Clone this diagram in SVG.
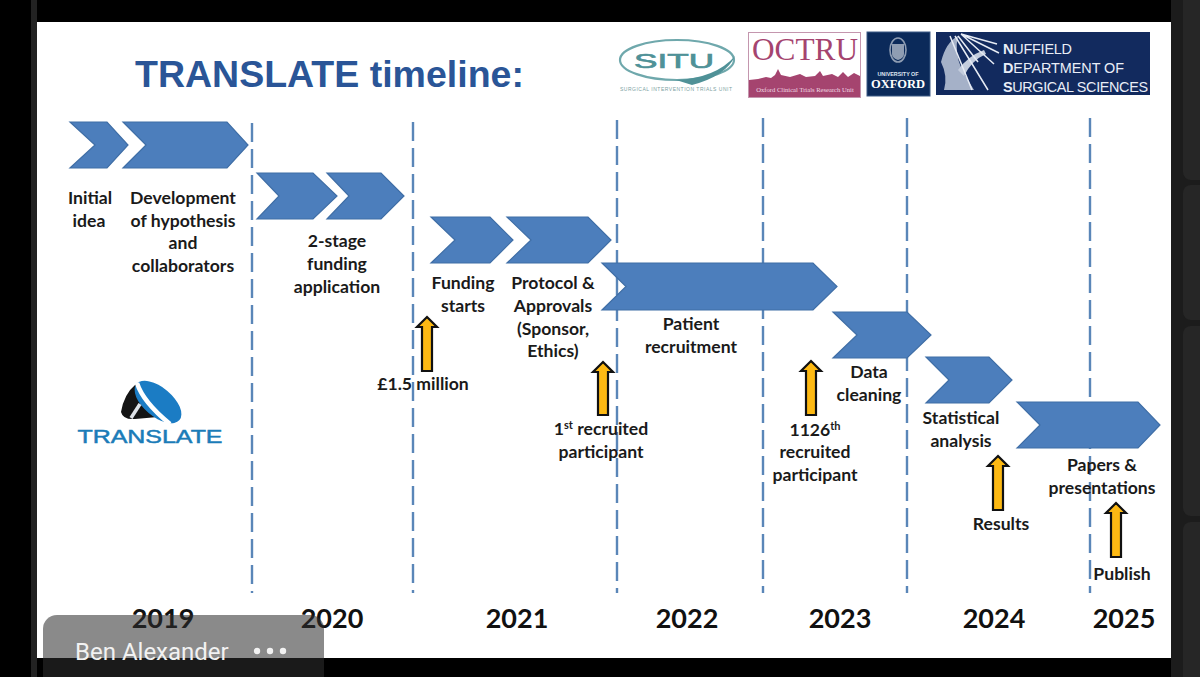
<svg xmlns="http://www.w3.org/2000/svg" width="1200" height="677" viewBox="0 0 1200 677">
<style>
.t{font-family:"Lato","Open Sans",sans-serif;font-weight:700;font-size:17.6px;fill:#1a1a1a;text-anchor:middle}
.y{font-family:"Lato","Open Sans",sans-serif;font-weight:700;font-size:27px;fill:#111;text-anchor:middle}
.c{fill:#4c7ebc;stroke:#3f6ea6;stroke-width:1.2}
.a{fill:#fdb913;stroke:#111;stroke-width:2.2}
.d{stroke:#5a86b8;stroke-width:2.4;stroke-dasharray:19 7;fill:none}
.s{font-size:11px}
</style>
<rect width="1200" height="677" fill="#000"/>
<rect x="31" y="0" width="6" height="677" fill="#222"/>
<rect x="1171" y="0" width="29" height="677" fill="#1c1c1c"/>
<rect x="1183" y="-20" width="30" height="200" rx="8" fill="#262626"/>
<rect x="1183" y="185" width="30" height="135" rx="8" fill="#262626"/>
<rect x="1183" y="326" width="30" height="190" rx="8" fill="#262626"/>
<rect x="1183" y="522" width="30" height="175" rx="8" fill="#262626"/>
<rect x="37" y="22" width="1134" height="636" fill="#fff"/>
<text id="title" x="135" y="87" font-family="'Liberation Sans',Arial,sans-serif" font-weight="700" font-size="37.5" fill="#2a5597">TRANSLATE timeline:</text>
<g id="logo-situ">
<ellipse cx="677" cy="60" rx="57" ry="20" fill="none" stroke="#6fa8ac" stroke-width="2.2"/>
<path d="M676 80Q716 78 735 56Q726 76 692 85Z" fill="#4f9197"/>
<text x="674" y="68" font-family="'Liberation Sans',sans-serif" font-size="21" fill="#4f9197" stroke="#4f9197" stroke-width=".7" text-anchor="middle" textLength="80" lengthAdjust="spacingAndGlyphs">SITU</text>
<text x="676" y="91" font-family="'Liberation Sans',sans-serif" font-size="5" fill="#7d9fa3" text-anchor="middle" textLength="112" lengthAdjust="spacing">SURGICAL INTERVENTION TRIALS UNIT</text>
</g>
<g id="logo-octru">
<rect x="748.500" y="32.500" width="112" height="65" fill="#fff" stroke="#c496ae"/>
<path d="M749 80L758 79L766 77L771 78L775 75L778 69L781 75L790 77L800 74L806 77L815 76L820 71L823 76L832 74L838 77L843 72L848 77L854 73L860 76V97H749Z" fill="#a5446f"/>
<text x="805" y="60" font-family="'Liberation Serif',serif" font-size="31" fill="#a5446f" text-anchor="middle" textLength="106" lengthAdjust="spacingAndGlyphs">OCTRU</text>
<text x="805" y="92" font-family="'Liberation Serif',serif" font-size="6.6" fill="#f0dbe5" text-anchor="middle">Oxford Clinical Trials Research Unit</text>
</g>
<g id="logo-oxford">
<rect x="867" y="32" width="63" height="64" fill="#0b2a5a" stroke="#3c5a85"/>
<ellipse cx="898" cy="50" rx="8" ry="12" fill="none" stroke="#8f9db3" stroke-width="1.6"/>
<path d="M892 44h12v10q0 4-6 6q-6-2-6-6z" fill="#8f9db3"/>
<text x="898" y="76" font-family="'Liberation Sans',sans-serif" font-weight="700" font-size="5.4" fill="#dfe6f0" text-anchor="middle">UNIVERSITY OF</text>
<text x="898" y="88" font-family="'Liberation Serif',serif" font-weight="700" font-size="12.5" fill="#fff" text-anchor="middle">OXFORD</text>
</g>
<g id="logo-nuffield">
<rect x="936" y="32" width="214" height="63" fill="#122a5e"/>
<path d="M941 62Q946 42 958 36Q954 52 962 70L974 90H944Q948 76 941 62Z" fill="#a5b1c8"/>
<path d="M958 70Q968 56 984 50L986 54Q972 60 964 76Z" fill="#c4cddd"/>
<path d="M961 34L997 44M961 34L999 53M961 34L994 64M958 36L978 62M955 36L988 90M950 36L972 90" stroke="#e6ebf4" stroke-width="1.500" fill="none"/>
<g font-family="'Liberation Sans',sans-serif" font-size="14.4" fill="#e9eef7">
<text x="1003" y="54" textLength="69"><tspan font-weight="700">N</tspan>UFFIELD</text>
<text x="1003" y="73" textLength="121"><tspan font-weight="700">D</tspan>EPARTMENT OF</text>
<text x="1003" y="92" textLength="145"><tspan font-weight="700">S</tspan>URGICAL SCIENCES</text>
</g>
</g>
<g id="logo-translate">
<path d="M121 412Q124 394 136 384L150 392L170 420L158 417L135 419Q123 420 121 412Z" fill="#141414"/>
<ellipse cx="158" cy="402" rx="28" ry="14.500" transform="rotate(40 158 402)" fill="#1b7cc4"/>
<path d="M137 383Q143 402 170 424" stroke="#fff" stroke-width="4.500" fill="none"/>
<path d="M140 404L131 418" stroke="#dfe3e8" stroke-width="3.500" fill="none"/>
<text x="150" y="443" font-family="'Liberation Sans',sans-serif" font-size="19" fill="#1b7cb8" text-anchor="middle" textLength="145" lengthAdjust="spacingAndGlyphs" stroke="#1b7cb8" stroke-width=".5">TRANSLATE</text>
</g>
<g id="connectors">
<path class="d" d="M252 123V593M413 122V593M617 120V593M763 118V593M907 118V593M1090 118V593"/>
</g>
<g id="n1"><polygon class="c" points="70,122 107,122 128,145 107,168 70,168 95,145"/><text class="t"><tspan x="90" y="204">Initial</tspan><tspan x="89" y="227">idea</tspan></text></g>
<g id="n2"><polygon class="c" points="123,122 227,122 248,145 227,168 123,168 146,145"/><text class="t"><tspan x="183" y="204">Development</tspan><tspan x="183" y="227">of hypothesis</tspan><tspan x="183" y="249">and</tspan><tspan x="183" y="272">collaborators</tspan></text></g>
<g id="n3"><polygon class="c" points="257,173 313,173 337,196 313,219 257,219 279,196"/></g>
<g id="n4"><polygon class="c" points="327,173 381,173 404,196 381,219 327,219 349,196"/><text class="t"><tspan x="337" y="247">2-stage</tspan><tspan x="337" y="270">funding</tspan><tspan x="337" y="293">application</tspan></text></g>
<g id="n5"><polygon class="c" points="431,217 490,217 513,240 490,263 431,263 455,240"/><text class="t"><tspan x="463" y="289">Funding</tspan><tspan x="463" y="312">starts</tspan></text></g>
<g id="n6"><polygon class="c" points="507,217 588,217 611,240 588,263 507,263 531,240"/><text class="t"><tspan x="553" y="289">Protocol &amp;</tspan><tspan x="553" y="312">Approvals</tspan><tspan x="553" y="335">(Sponsor,</tspan><tspan x="553" y="357">Ethics)</tspan></text></g>
<g id="n7"><polygon class="c" points="602,263 813,263 837,286.500 813,310 602,310 626,286.500"/><text class="t"><tspan x="691" y="330">Patient</tspan><tspan x="691" y="353">recruitment</tspan></text></g>
<g id="n8"><polygon class="c" points="833,312 907,312 931,335 907,358 833,358 857,335"/><text class="t"><tspan x="869" y="378">Data</tspan><tspan x="869" y="401">cleaning</tspan></text></g>
<g id="n9"><polygon class="c" points="926,357 989,357 1012,380 989,403 926,403 949,380"/><text class="t"><tspan x="961" y="424">Statistical</tspan><tspan x="961" y="447">analysis</tspan></text></g>
<g id="n10"><polygon class="c" points="1017,402 1138,402 1160,425 1138,448 1017,448 1040,425"/><text class="t"><tspan x="1102" y="471">Papers &amp;</tspan><tspan x="1102" y="494">presentations</tspan></text></g>
<g id="m1"><polygon class="a" points="427,317 437,327 432,327 432,371 422,371 422,327 417,327"/><text class="t" x="423" y="390">£1.5 million</text></g>
<g id="m2"><polygon class="a" points="603,362 613,372 608,372 608,415 598,415 598,372 593,372"/><text class="t"><tspan x="601" y="435">1<tspan class="s" dy="-6">st</tspan><tspan dy="6"> recruited</tspan></tspan><tspan x="601" y="458">participant</tspan></text></g>
<g id="m3"><polygon class="a" points="811,361 821,371 816,371 816,415 806,415 806,371 801,371"/><text class="t"><tspan x="815" y="436">1126<tspan class="s" dy="-6">th</tspan></tspan><tspan x="815" y="458">recruited</tspan><tspan x="815" y="481">participant</tspan></text></g>
<g id="m4"><polygon class="a" points="998,456 1008,466 1003,466 1003,510 993,510 993,466 988,466"/><text class="t" x="1001" y="530">Results</text></g>
<g id="m5"><polygon class="a" points="1116,503 1126,513 1121,513 1121,557 1111,557 1111,513 1106,513"/><text class="t" x="1122" y="580">Publish</text></g>
<g id="years">
<text class="y" x="163" y="628">2019</text><text class="y" x="332" y="628">2020</text><text class="y" x="517" y="628">2021</text><text class="y" x="687" y="628">2022</text><text class="y" x="840" y="628">2023</text><text class="y" x="994" y="628">2024</text><text class="y" x="1124" y="628">2025</text>
</g>
<g id="overlay">
<rect x="43" y="615" width="281" height="80" rx="14" fill="#2e2e2e" fill-opacity=".56"/>
<text x="75" y="660" font-family="Roboto,'Open Sans',sans-serif" font-size="24" fill="#f2f2f2">Ben Alexander</text>
<circle cx="257" cy="651" r="3.200" fill="#f2f2f2"/><circle cx="270" cy="651" r="3.200" fill="#f2f2f2"/><circle cx="283" cy="651" r="3.200" fill="#f2f2f2"/>
</g>
</svg>
